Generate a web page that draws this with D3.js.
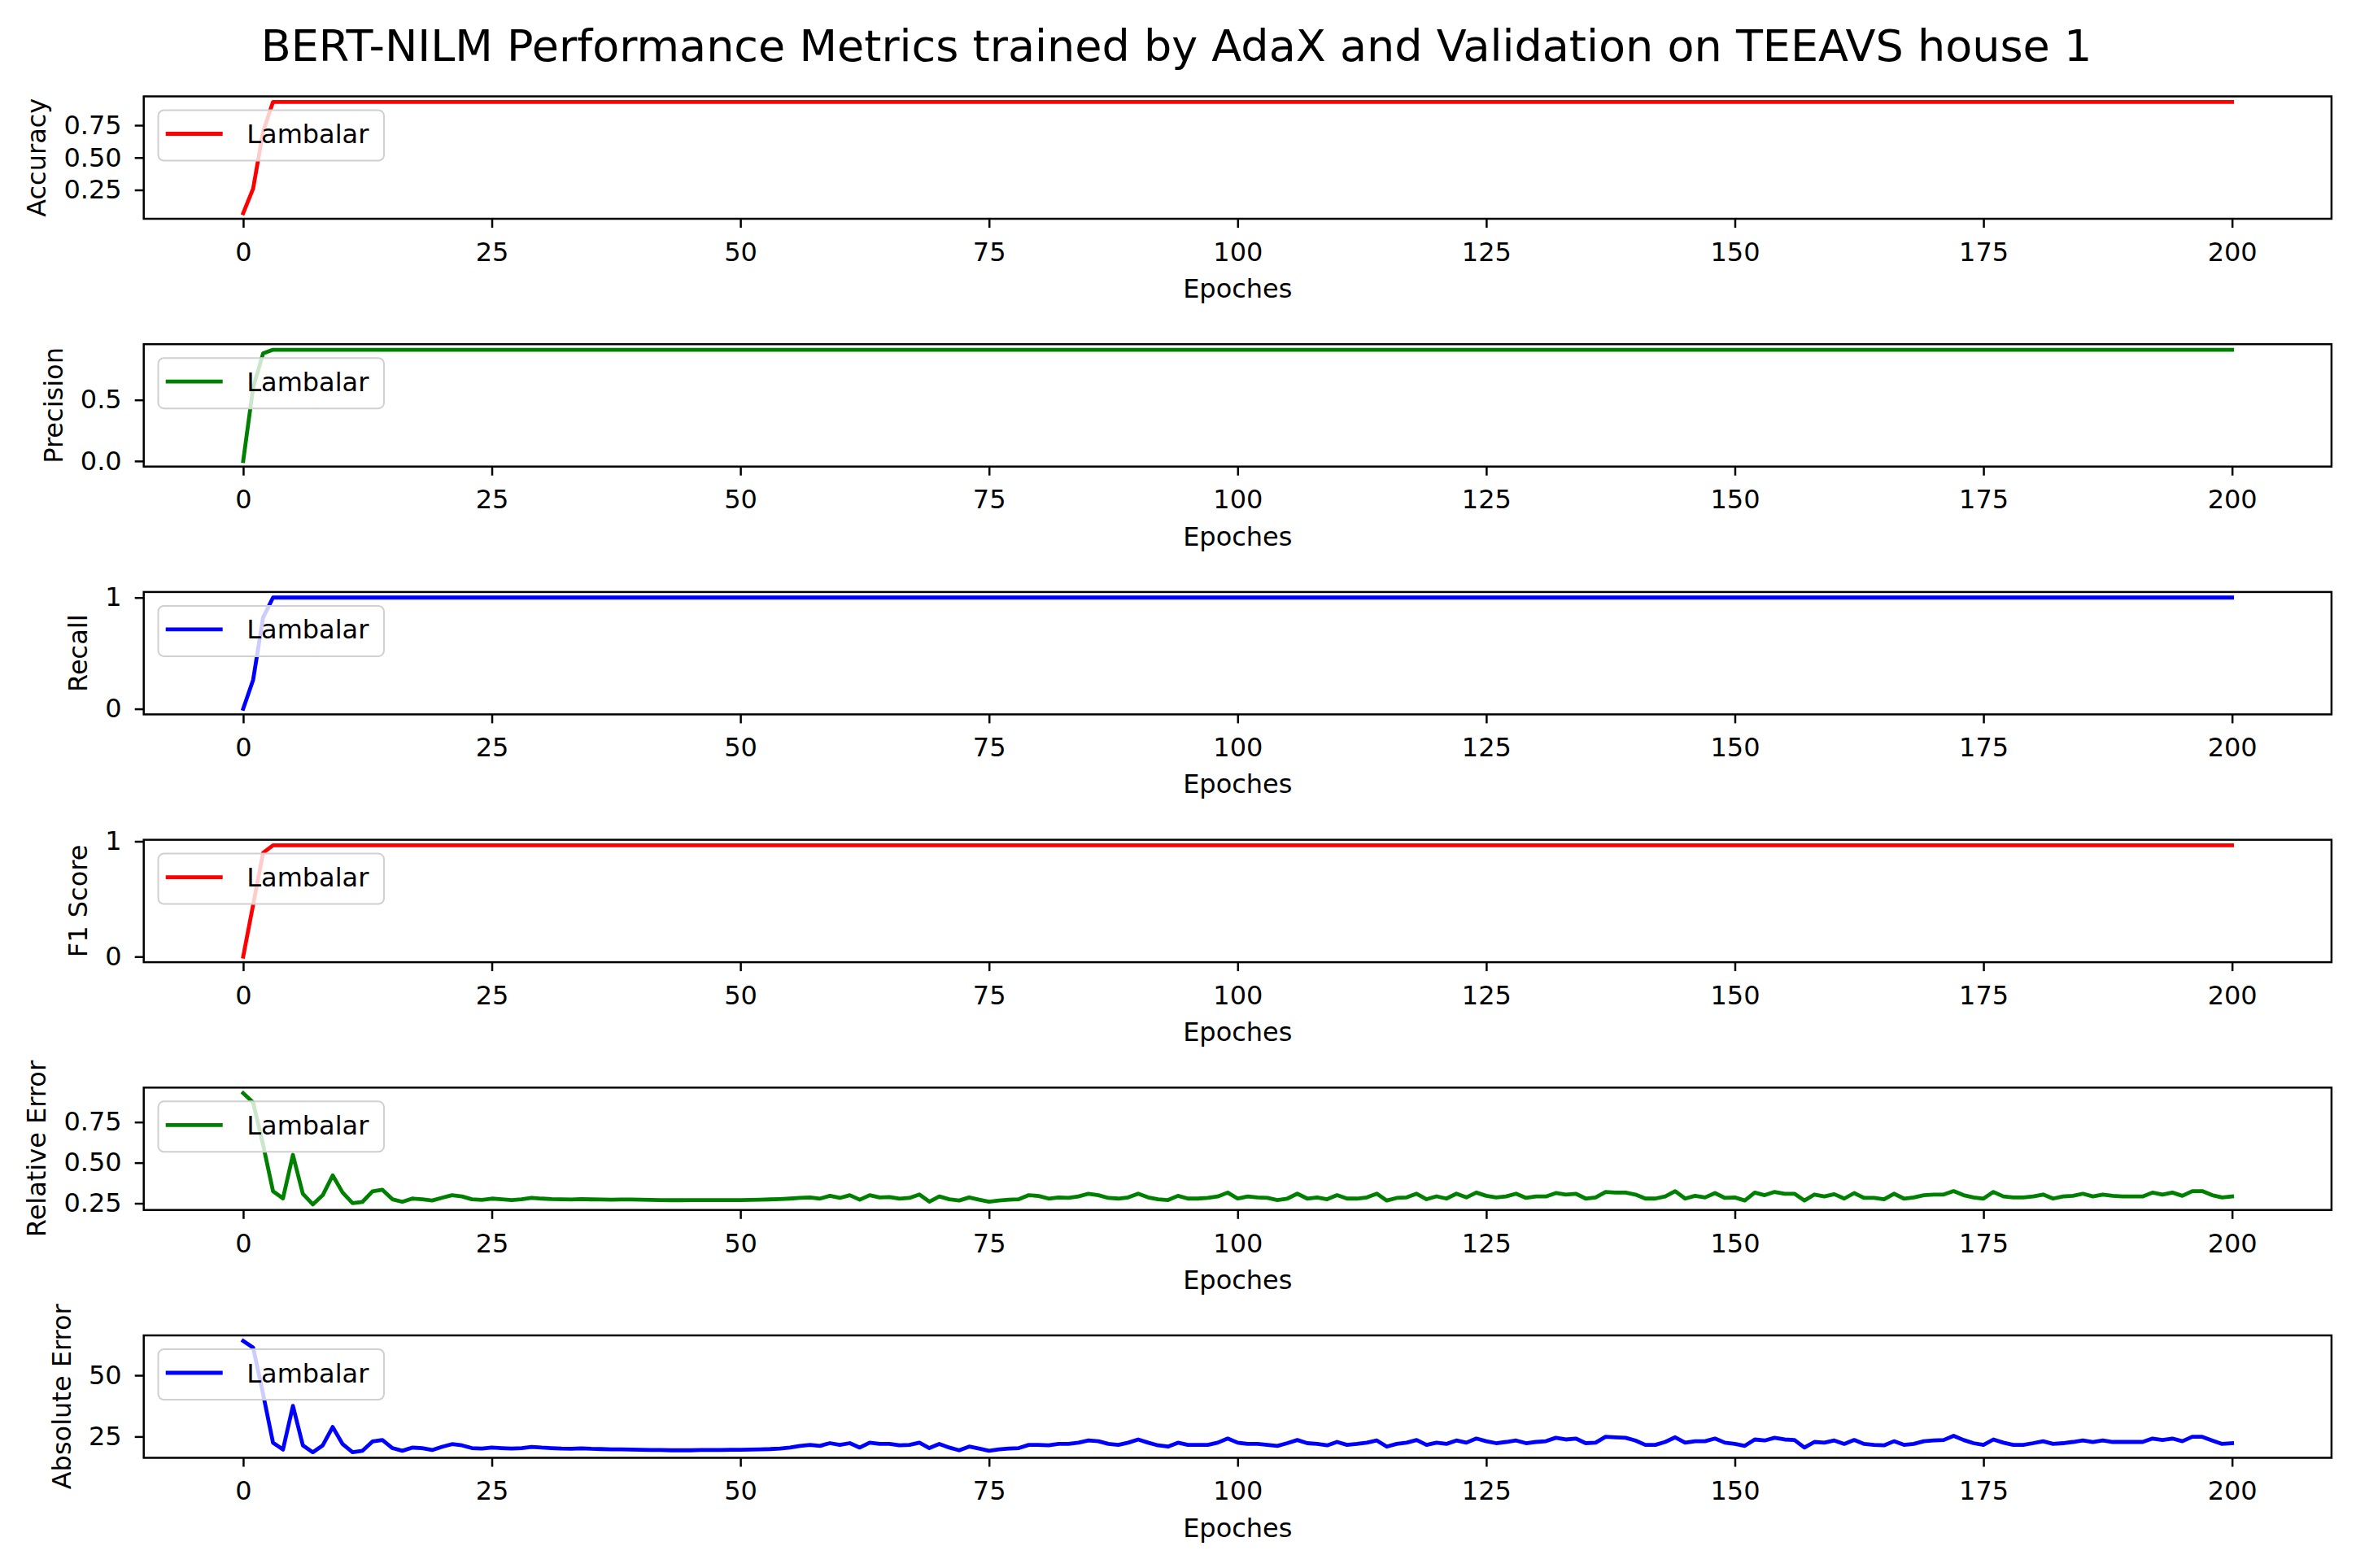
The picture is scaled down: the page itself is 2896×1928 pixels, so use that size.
<!DOCTYPE html>
<html><head><meta charset="utf-8">
<script src="https://cdn.jsdelivr.net/npm/d3@7"></script>
<style>body{margin:0;background:#fff} svg{display:block} text{font-family:"DejaVu Sans",sans-serif;fill:#000}</style>
</head><body><svg id="chart" width="2896" height="1928"></svg>
<script>
// ---------- DATA ----------
const epochs = d3.range(0, 201);               // 0..200
const xTickValues = [0, 25, 50, 75, 100, 125, 150, 175, 200];
const seriesName = "Lambalar";
const titleText = "BERT-NILM Performance Metrics trained by AdaX and Validation on TEEAVS house 1";
const xLabelText = "Epoches";

const accuracy = [
0.07,0.26,0.70,0.93,0.93,0.93,0.93,0.93,0.93,0.93,
0.93,0.93,0.93,0.93,0.93,0.93,0.93,0.93,0.93,0.93,
0.93,0.93,0.93,0.93,0.93,0.93,0.93,0.93,0.93,0.93,
0.93,0.93,0.93,0.93,0.93,0.93,0.93,0.93,0.93,0.93,
0.93,0.93,0.93,0.93,0.93,0.93,0.93,0.93,0.93,0.93,
0.93,0.93,0.93,0.93,0.93,0.93,0.93,0.93,0.93,0.93,
0.93,0.93,0.93,0.93,0.93,0.93,0.93,0.93,0.93,0.93,
0.93,0.93,0.93,0.93,0.93,0.93,0.93,0.93,0.93,0.93,
0.93,0.93,0.93,0.93,0.93,0.93,0.93,0.93,0.93,0.93,
0.93,0.93,0.93,0.93,0.93,0.93,0.93,0.93,0.93,0.93,
0.93,0.93,0.93,0.93,0.93,0.93,0.93,0.93,0.93,0.93,
0.93,0.93,0.93,0.93,0.93,0.93,0.93,0.93,0.93,0.93,
0.93,0.93,0.93,0.93,0.93,0.93,0.93,0.93,0.93,0.93,
0.93,0.93,0.93,0.93,0.93,0.93,0.93,0.93,0.93,0.93,
0.93,0.93,0.93,0.93,0.93,0.93,0.93,0.93,0.93,0.93,
0.93,0.93,0.93,0.93,0.93,0.93,0.93,0.93,0.93,0.93,
0.93,0.93,0.93,0.93,0.93,0.93,0.93,0.93,0.93,0.93,
0.93,0.93,0.93,0.93,0.93,0.93,0.93,0.93,0.93,0.93,
0.93,0.93,0.93,0.93,0.93,0.93,0.93,0.93,0.93,0.93,
0.93,0.93,0.93,0.93,0.93,0.93,0.93,0.93,0.93,0.93,
0.93];
const precision = [
0,0.60,0.88,0.91,0.91,0.91,0.91,0.91,0.91,0.91,
0.91,0.91,0.91,0.91,0.91,0.91,0.91,0.91,0.91,0.91,
0.91,0.91,0.91,0.91,0.91,0.91,0.91,0.91,0.91,0.91,
0.91,0.91,0.91,0.91,0.91,0.91,0.91,0.91,0.91,0.91,
0.91,0.91,0.91,0.91,0.91,0.91,0.91,0.91,0.91,0.91,
0.91,0.91,0.91,0.91,0.91,0.91,0.91,0.91,0.91,0.91,
0.91,0.91,0.91,0.91,0.91,0.91,0.91,0.91,0.91,0.91,
0.91,0.91,0.91,0.91,0.91,0.91,0.91,0.91,0.91,0.91,
0.91,0.91,0.91,0.91,0.91,0.91,0.91,0.91,0.91,0.91,
0.91,0.91,0.91,0.91,0.91,0.91,0.91,0.91,0.91,0.91,
0.91,0.91,0.91,0.91,0.91,0.91,0.91,0.91,0.91,0.91,
0.91,0.91,0.91,0.91,0.91,0.91,0.91,0.91,0.91,0.91,
0.91,0.91,0.91,0.91,0.91,0.91,0.91,0.91,0.91,0.91,
0.91,0.91,0.91,0.91,0.91,0.91,0.91,0.91,0.91,0.91,
0.91,0.91,0.91,0.91,0.91,0.91,0.91,0.91,0.91,0.91,
0.91,0.91,0.91,0.91,0.91,0.91,0.91,0.91,0.91,0.91,
0.91,0.91,0.91,0.91,0.91,0.91,0.91,0.91,0.91,0.91,
0.91,0.91,0.91,0.91,0.91,0.91,0.91,0.91,0.91,0.91,
0.91,0.91,0.91,0.91,0.91,0.91,0.91,0.91,0.91,0.91,
0.91,0.91,0.91,0.91,0.91,0.91,0.91,0.91,0.91,0.91,
0.91];
const recall = [
0,0.26,0.82,1.0,1.0,1.0,1.0,1.0,1.0,1.0,
1.0,1.0,1.0,1.0,1.0,1.0,1.0,1.0,1.0,1.0,
1.0,1.0,1.0,1.0,1.0,1.0,1.0,1.0,1.0,1.0,
1.0,1.0,1.0,1.0,1.0,1.0,1.0,1.0,1.0,1.0,
1.0,1.0,1.0,1.0,1.0,1.0,1.0,1.0,1.0,1.0,
1.0,1.0,1.0,1.0,1.0,1.0,1.0,1.0,1.0,1.0,
1.0,1.0,1.0,1.0,1.0,1.0,1.0,1.0,1.0,1.0,
1.0,1.0,1.0,1.0,1.0,1.0,1.0,1.0,1.0,1.0,
1.0,1.0,1.0,1.0,1.0,1.0,1.0,1.0,1.0,1.0,
1.0,1.0,1.0,1.0,1.0,1.0,1.0,1.0,1.0,1.0,
1.0,1.0,1.0,1.0,1.0,1.0,1.0,1.0,1.0,1.0,
1.0,1.0,1.0,1.0,1.0,1.0,1.0,1.0,1.0,1.0,
1.0,1.0,1.0,1.0,1.0,1.0,1.0,1.0,1.0,1.0,
1.0,1.0,1.0,1.0,1.0,1.0,1.0,1.0,1.0,1.0,
1.0,1.0,1.0,1.0,1.0,1.0,1.0,1.0,1.0,1.0,
1.0,1.0,1.0,1.0,1.0,1.0,1.0,1.0,1.0,1.0,
1.0,1.0,1.0,1.0,1.0,1.0,1.0,1.0,1.0,1.0,
1.0,1.0,1.0,1.0,1.0,1.0,1.0,1.0,1.0,1.0,
1.0,1.0,1.0,1.0,1.0,1.0,1.0,1.0,1.0,1.0,
1.0,1.0,1.0,1.0,1.0,1.0,1.0,1.0,1.0,1.0,
1.0];
const f1Score = [
0,0.45,0.90,0.965,0.965,0.965,0.965,0.965,0.965,0.965,
0.965,0.965,0.965,0.965,0.965,0.965,0.965,0.965,0.965,0.965,
0.965,0.965,0.965,0.965,0.965,0.965,0.965,0.965,0.965,0.965,
0.965,0.965,0.965,0.965,0.965,0.965,0.965,0.965,0.965,0.965,
0.965,0.965,0.965,0.965,0.965,0.965,0.965,0.965,0.965,0.965,
0.965,0.965,0.965,0.965,0.965,0.965,0.965,0.965,0.965,0.965,
0.965,0.965,0.965,0.965,0.965,0.965,0.965,0.965,0.965,0.965,
0.965,0.965,0.965,0.965,0.965,0.965,0.965,0.965,0.965,0.965,
0.965,0.965,0.965,0.965,0.965,0.965,0.965,0.965,0.965,0.965,
0.965,0.965,0.965,0.965,0.965,0.965,0.965,0.965,0.965,0.965,
0.965,0.965,0.965,0.965,0.965,0.965,0.965,0.965,0.965,0.965,
0.965,0.965,0.965,0.965,0.965,0.965,0.965,0.965,0.965,0.965,
0.965,0.965,0.965,0.965,0.965,0.965,0.965,0.965,0.965,0.965,
0.965,0.965,0.965,0.965,0.965,0.965,0.965,0.965,0.965,0.965,
0.965,0.965,0.965,0.965,0.965,0.965,0.965,0.965,0.965,0.965,
0.965,0.965,0.965,0.965,0.965,0.965,0.965,0.965,0.965,0.965,
0.965,0.965,0.965,0.965,0.965,0.965,0.965,0.965,0.965,0.965,
0.965,0.965,0.965,0.965,0.965,0.965,0.965,0.965,0.965,0.965,
0.965,0.965,0.965,0.965,0.965,0.965,0.965,0.965,0.965,0.965,
0.965,0.965,0.965,0.965,0.965,0.965,0.965,0.965,0.965,0.965,
0.965];
const relativeError = [
0.928,0.871,0.61,0.324,0.28,0.548,0.308,0.243,0.30,0.422,
0.316,0.251,0.259,0.324,0.333,0.275,0.259,0.279,0.275,0.267,
0.284,0.30,0.292,0.275,0.271,0.279,0.275,0.27,0.275,0.284,
0.279,0.276,0.275,0.273,0.276,0.274,0.273,0.272,0.273,0.273,
0.272,0.271,0.27,0.269,0.269,0.27,0.27,0.27,0.27,0.27,
0.27,0.271,0.272,0.274,
0.276,0.279,0.283,0.286,0.279,0.296,0.283,0.30,0.272,0.30,
0.286,0.288,0.278,0.283,0.304,0.26,0.292,0.275,0.267,0.286,
0.272,0.26,0.267,0.272,0.275,0.30,
0.295,0.279,0.286,0.283,0.292,0.309,0.30,0.283,0.279,0.286,
0.309,0.286,0.275,0.27,0.296,0.279,0.279,0.283,0.292,0.316,
0.279,0.292,0.286,0.283,0.27,0.279,0.309,0.279,0.286,0.275,
0.30,0.279,0.279,0.286,0.309,0.267,0.283,0.286,0.309,0.275,
0.293,0.279,0.309,0.286,0.316,0.296,0.286,0.292,0.309,0.283,
0.292,0.292,0.313,0.304,0.309,0.279,0.286,0.32,0.316,0.316,
0.304,0.279,0.279,0.292,0.325,0.279,0.296,0.286,0.313,0.283,
0.286,0.267,0.316,0.30,0.32,0.309,0.309,0.267,0.304,0.292,
0.306,0.279,0.313,0.283,0.283,0.275,0.309,0.279,0.286,0.30,
0.304,0.304,0.325,0.30,0.286,0.279,0.32,0.292,0.286,0.286,
0.292,0.304,0.279,0.292,0.296,0.309,0.292,0.304,0.296,0.292,
0.292,0.292,0.316,0.304,0.316,0.296,0.325,0.325,0.30,0.286,
0.292];
const absoluteError = [
64.0,61.3,42.4,22.5,19.7,37.5,21.4,18.6,21.4,28.9,
21.9,18.6,19.2,23.0,23.6,20.3,19.2,20.5,20.3,19.5,
20.8,21.9,21.4,20.3,20.1,20.5,20.3,20.1,20.3,20.8,
20.5,20.3,20.1,20.0,20.2,20.0,19.9,19.8,19.8,19.7,
19.6,19.5,19.5,19.4,19.4,19.4,19.5,19.5,19.5,19.6,
19.6,19.7,19.8,19.9,
20.1,20.5,21.2,21.6,21.2,22.3,21.6,22.3,20.5,22.5,
22.0,22.0,21.4,21.6,22.5,20.3,22.0,20.5,19.4,20.9,
20.1,19.2,19.8,20.1,20.3,21.6,
21.6,21.4,22.0,22.0,22.5,23.4,23.1,22.0,21.6,22.5,
23.8,22.5,21.4,20.9,22.5,21.6,21.6,21.6,22.5,24.2,
22.5,22.0,22.0,21.6,21.2,22.3,23.6,22.3,22.0,21.4,
22.8,21.6,22.0,22.5,23.4,20.9,22.0,22.5,23.6,21.6,
22.5,22.0,23.4,22.5,24.2,23.1,22.3,22.8,23.4,22.3,
22.8,23.1,24.5,23.8,24.2,22.3,22.5,24.9,24.7,24.5,
23.4,21.6,21.6,22.8,24.7,22.5,23.1,23.1,24.2,22.5,
22.0,21.2,23.8,23.4,24.5,23.8,23.6,20.5,22.8,22.5,
23.4,22.0,23.6,22.0,21.6,21.4,23.1,21.6,22.0,23.1,
23.4,23.6,25.3,23.6,22.3,21.6,23.8,22.5,21.6,21.6,
22.3,23.1,22.0,22.3,22.8,23.4,22.8,23.4,22.8,22.8,
22.8,22.8,24.2,23.6,24.2,23.1,24.9,24.9,23.4,22.0,
22.3];

const metricLabels = ["Accuracy", "Precision", "Recall", "F1 Score", "Relative Error", "Absolute Error"];
const metricSeries = [accuracy, precision, recall, f1Score, relativeError, absoluteError];
const metricColors = ["#ff0000", "#008000", "#0000ff", "#ff0000", "#008000", "#0000ff"];
const yTickValues = [[0.25, 0.5, 0.75], [0, 0.5], [0, 1], [0, 1], [0.25, 0.5, 0.75], [25, 50]];
const yTickFormats = [".2f", ".1f", "d", "d", ".2f", "d"];

// ---------- LAYOUT ----------
const W = 2896, H = 1928;
const left = 176.7, right = 2865.9;
const top0 = 118.5, step = 304.7, ph = 150.5;
const FS = 32;

const svg = d3.select("#chart");
svg.append("rect").attr("width", W).attr("height", H).attr("fill", "#fff");

svg.append("text")
  .attr("x", 1446).attr("y", 75)
  .attr("text-anchor", "middle")
  .style("font-size", "54px")
  .text(titleText);

const x = d3.scaleLinear().domain([-10, 210]).range([left, right]);

metricLabels.forEach((label, k) => {
  const vals = metricSeries[k];
  const top = top0 + k * step, bottom = top + ph;
  const mn = d3.min(vals), mx = d3.max(vals), r = mx - mn;
  const y = d3.scaleLinear().domain([mn - 0.05 * r, mx + 0.05 * r]).range([bottom, top]);
  const g = svg.append("g");

  // line
  const line = d3.line().x((d, i) => x(epochs[i])).y(d => y(d));
  g.append("path").datum(vals)
    .attr("d", line)
    .attr("fill", "none")
    .attr("stroke", metricColors[k])
    .attr("stroke-width", 4.8)
    .attr("stroke-linejoin", "round")
    .attr("stroke-linecap", "square");

  // x axis
  const xa = g.append("g").attr("transform", `translate(0,${bottom})`)
    .call(d3.axisBottom(x).tickValues(xTickValues).tickSize(11).tickPadding(18).tickFormat(d3.format("d")));
  xa.select(".domain").remove();
  xa.selectAll("line").attr("stroke", "#000").attr("stroke-width", 2.5);
  xa.selectAll("text").style("font-size", FS + "px").attr("fill", "#000");

  // y axis
  const ya = g.append("g").attr("transform", `translate(${left},0)`)
    .call(d3.axisLeft(y).tickValues(yTickValues[k]).tickSize(11).tickPadding(16).tickFormat(d3.format(yTickFormats[k])));
  ya.select(".domain").remove();
  ya.selectAll("line").attr("stroke", "#000").attr("stroke-width", 2.5);
  ya.selectAll("text").style("font-size", FS + "px").attr("fill", "#000");

  // frame
  g.append("rect").attr("x", left).attr("y", top).attr("width", right - left).attr("height", ph)
    .attr("fill", "none").attr("stroke", "#000").attr("stroke-width", 2.5);

  // y label
  let minX = 0;
  ya.selectAll("text").each(function () { const b = this.getBBox(); minX = Math.min(minX, b.x); });
  const lx = left + minX - 33;
  g.append("text")
    .attr("transform", `translate(${lx},${top + ph / 2}) rotate(-90)`)
    .attr("text-anchor", "middle")
    .attr("dominant-baseline", "central")
    .style("font-size", FS + "px")
    .text(label);

  // x label
  g.append("text")
    .attr("x", (left + right) / 2).attr("y", bottom + 97)
    .attr("text-anchor", "middle")
    .style("font-size", FS + "px")
    .text(xLabelText);

  // legend
  const lg = g.append("g").attr("transform", `translate(${left},${top})`);
  lg.append("rect").attr("x", 17.8).attr("y", 17).attr("width", 277.5).attr("height", 62).attr("rx", 7)
    .attr("fill", "#fff").attr("fill-opacity", 0.8).attr("stroke", "#d0d0d0").attr("stroke-width", 2);
  lg.append("line").attr("x1", 27).attr("x2", 97).attr("y1", 46).attr("y2", 46)
    .attr("stroke", metricColors[k]).attr("stroke-width", 4.8);
  lg.append("text").attr("x", 126.5).attr("y", 57.5).style("font-size", FS + "px").text(seriesName);
});
</script>
</body></html>
